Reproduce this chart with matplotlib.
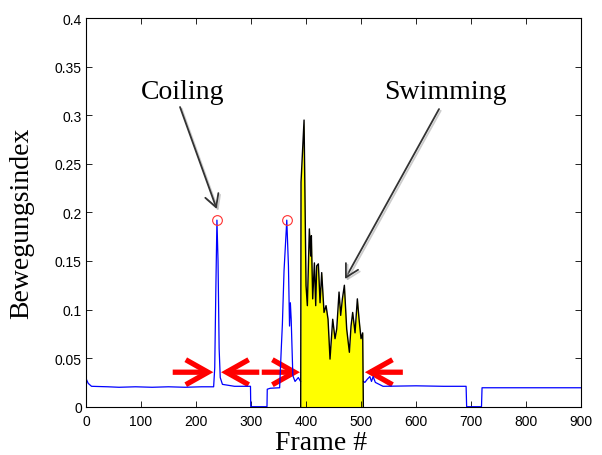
import matplotlib
matplotlib.use("Agg")
import matplotlib.pyplot as plt
import matplotlib.patheffects as pe
from matplotlib.patches import FancyArrowPatch

# motion index before the swimming bout (blue trace)
pre_frames = [0, 4, 10, 40, 60, 90, 120, 150, 180, 210, 232, 234, 236, 238, 240,
              242, 244, 248, 270, 299, 299.5, 329, 329.5, 335, 352, 355, 357,
              360, 365, 368, 370, 371.5, 373, 376, 380, 386, 390]
pre_values = [0.029, 0.024, 0.021, 0.0205, 0.020, 0.0205, 0.020, 0.0205, 0.020,
              0.0205, 0.0205, 0.04, 0.12, 0.192, 0.15, 0.06, 0.03, 0.023, 0.021,
              0.021, 0.0, 0.0, 0.018, 0.019, 0.0195, 0.06, 0.085, 0.14, 0.192,
              0.145, 0.083, 0.107, 0.09, 0.032, 0.026, 0.03, 0.026]

# swimming bout (black outline, yellow fill)
swim_frames = [390.3, 390.9, 396.4, 400.0, 402.4, 406.0, 408.5, 409.7, 412.1,
               415.2, 417.6, 419.4, 422.4, 425.5, 428.5, 432.7, 436.4, 440.0,
               443.6, 448.5, 452.7, 455.8, 460.0, 463.0, 466.1, 469.7, 473.9,
               478.8, 481.8, 484.8, 489.1, 493.3, 496.4, 500.0, 503.0, 504.2]
swim_values = [0.0, 0.231, 0.295, 0.1245, 0.104, 0.183, 0.155, 0.176, 0.111,
               0.148, 0.104, 0.145, 0.147, 0.107, 0.138, 0.097, 0.104, 0.090,
               0.049, 0.090, 0.070, 0.080, 0.118, 0.094, 0.111, 0.125, 0.080,
               0.056, 0.083, 0.097, 0.076, 0.111, 0.090, 0.070, 0.076, 0.0]

# motion index after the swimming bout
post_frames = [504.5, 507, 511, 516, 519, 522, 526, 540, 600, 650, 691, 692,
               719, 720, 800, 900]
post_values = [0.026, 0.025, 0.028, 0.031, 0.026, 0.031, 0.025, 0.021, 0.0215,
               0.021, 0.021, 0.0, 0.0, 0.0195, 0.0195, 0.0195]

# detected coiling peaks
peak_frames = [238, 365]
peak_values = [0.192, 0.192]

xticks = [0, 100, 200, 300, 400, 500, 600, 700, 800, 900]
yticks = [0, 0.05, 0.1, 0.15, 0.2, 0.25, 0.3, 0.35, 0.4]
ytick_labels = ['0', '0.05', '0.1', '0.15', '0.2', '0.25', '0.3', '0.35', '0.4']

serif = 'Liberation Serif'
plt.rcParams['font.family'] = 'Liberation Sans'

fig = plt.figure(figsize=(6.02, 4.56), dpi=100)
ax = fig.add_axes([0.1429, 0.1059, 0.8223, 0.8524])

ax.plot(pre_frames, pre_values, color='#0000ff', lw=0.9)
ax.plot(post_frames, post_values, color='#0000ff', lw=0.9)
ax.fill_between(swim_frames, swim_values, 0, color='#ffff00', lw=0)
ax.plot(swim_frames, swim_values, color='black', lw=1.0)
ax.plot(peak_frames, peak_values, 'o', ms=7, mfc='none', mec='#ff3030', mew=0.8)

# red arrows marking the windows around each event
red_arrows = [(157.6, 231.5), (315, 245.5), (319.5, 389), (576, 507)]
for x0, x1 in red_arrows:
    arr = FancyArrowPatch((x0, 0.0355), (x1, 0.0355),
                          arrowstyle='->, head_length=0.8, head_width=0.45',
                          mutation_scale=20, color='#ff0000', lw=3.8,
                          shrinkA=0, shrinkB=0, capstyle='butt', joinstyle='miter')
    ax.add_patch(arr)

# labels with pointer arrows
shadow = [pe.SimpleLineShadow(offset=(1.2, -1.2), shadow_color='#aaaaaa', alpha=0.6),
          pe.Normal()]
ax.text(176, 0.324, 'Coiling', ha='center', va='center', fontsize=20, family=serif)
ax.text(652.7, 0.324, 'Swimming', ha='center', va='center', fontsize=20, family=serif)
pointers = [((170.9, 0.3084), (237.6, 0.2035)), ((641.8, 0.3063), (470.9, 0.1314))]
for tail, head in pointers:
    arr = FancyArrowPatch(tail, head,
                          arrowstyle='->, head_length=0.9, head_width=0.5',
                          mutation_scale=10, color='#333333', lw=1.3,
                          shrinkA=0, shrinkB=0, path_effects=shadow)
    ax.add_patch(arr)

ax.set_xlim(0, 900)
ax.set_ylim(0, 0.4)
ax.set_xticks(xticks)
ax.set_yticks(yticks)
ax.set_yticklabels(ytick_labels)
ax.tick_params(direction='in', length=4, width=0.6, top=True, right=True,
               labelsize=10)
ax.tick_params(axis='x', pad=5)
ax.tick_params(axis='y', pad=3)
for s in ax.spines.values():
    s.set_linewidth(0.8)

ax.set_xlabel('Frame #', fontsize=20, family=serif, va='center')
ax.xaxis.set_label_coords(0.475, -0.091)
ax.set_ylabel('Bewegungsindex', fontsize=20, family=serif, va='center')
ax.yaxis.set_label_coords(-0.129, 0.474)

fig.savefig('out.png', dpi=100)
